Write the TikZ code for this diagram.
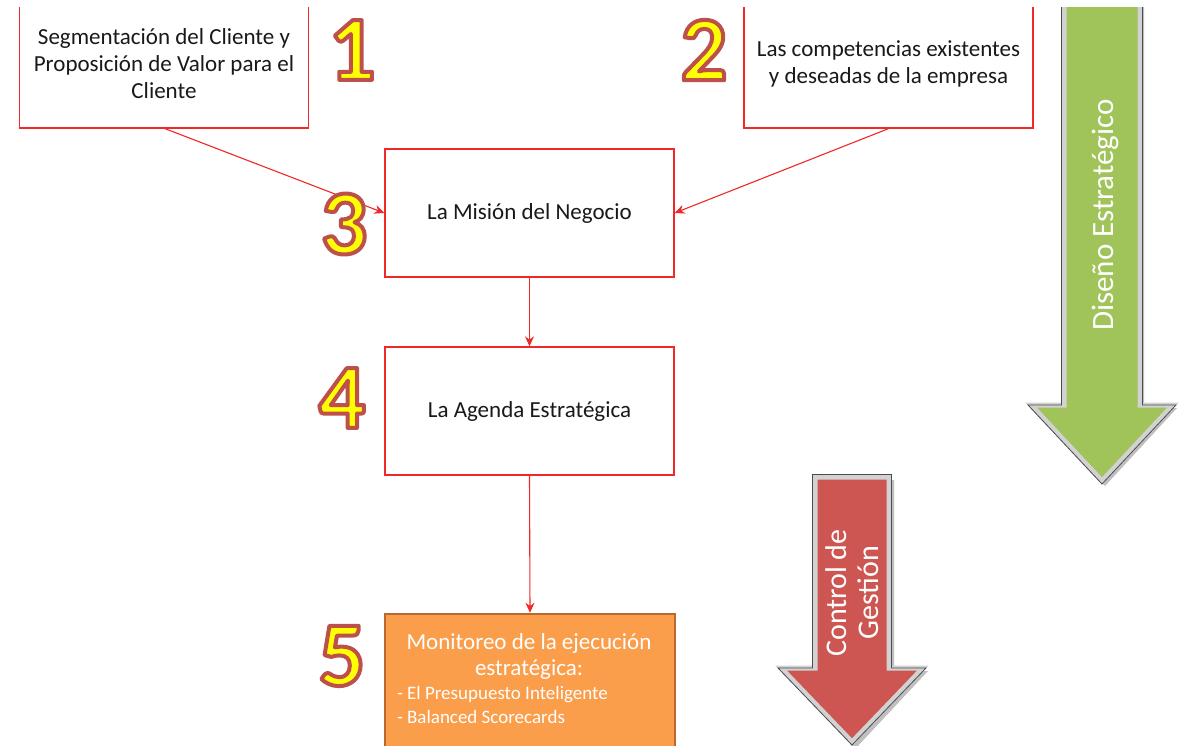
\documentclass[tikz,border=0pt]{standalone}
\usepackage{fontspec}
\setmainfont{Carlito}
\usetikzlibrary{arrows.meta}
\definecolor{boxred}{RGB}{240,40,40}
\definecolor{numyellow}{RGB}{255,255,0}
\definecolor{numedge}{RGB}{190,80,75}
\definecolor{greenarrow}{RGB}{160,195,90}
\definecolor{redarrow}{RGB}{205,85,82}
\definecolor{orangebox}{RGB}{250,158,75}
\definecolor{orangeedge}{RGB}{185,105,45}
\definecolor{txt}{RGB}{25,25,25}
\tikzset{
  stepbox/.style={draw=boxred, line width=1.3pt, fill=white, minimum width=289pt, minimum height=128pt, inner sep=0pt, align=center, font=\fontsize{23}{27}\selectfont, text=txt},
  conn/.style={draw=boxred, line width=1.1pt, -{Stealth[length=10pt,width=9pt]}},
  bignum/.style={font=\fontsize{92}{92}\bfseries\selectfont, inner sep=0pt},
  bevel/.style={line width=5pt, draw=gray!35, line join=miter},
  bevelline/.style={line width=0.8pt, draw=gray!60!black, line join=miter},
}
\newcommand{\numtxt}[1]{\textcolor{numyellow}{\special{pdf:literal direct 0.745 0.314 0.294 RG 4 w 1 j 2 Tr}#1\special{pdf:literal direct 0 Tr}}}
% down arrow: #1 center x, #2 top y, #3 shaft half width, #4 head y, #5 head half width, #6 tip y
\newcommand{\downarrowpath}[6]{(#1-#3,#2) -- (#1+#3,#2) -- (#1+#3,#4) -- (#1+#5,#4) -- (#1,#6) -- (#1-#5,#4) -- (#1-#3,#4) -- cycle}
\begin{document}
\begin{tikzpicture}[x=1pt,y=-1pt]
\useasboundingbox (0,0) rectangle (1184,746);
\fill[white] (0,0) rectangle (1184,746);
% boxes (top two clipped at the top)
\begin{scope}
\clip (0,8) rectangle (1184,746);
\node[stepbox] (b1) at (164,64) {Segmentación del Cliente y\\Proposición de Valor para el\\Cliente};
\node[stepbox] (b2) at (888.5,64) {Las competencias existentes\\y deseadas de la empresa};
% green arrow
\fill[gray!50] \downarrowpath{1105}{2}{39}{408}{72}{486};
\path[bevel, fill=greenarrow] \downarrowpath{1102}{0}{38}{405}{71}{481};
\path[bevelline] \downarrowpath{1102}{0}{40.5}{405}{74}{484};
\end{scope}
\node[rotate=90, text=white, font=\fontsize{31}{36}\selectfont] (dlabel) at (1105,215) {Diseño Estratégico};
\node[stepbox] (b3) at (529.5,213) {La Misión del Negocio};
\node[stepbox] (b4) at (529.5,411) {La Agenda Estratégica};
% orange box
\begin{scope}
\clip (0,0) rectangle (1184,746);
\node[draw=orangeedge, line width=2.5pt, fill=orangebox, minimum width=290pt, minimum height=146pt, inner sep=0pt] (b5) at (530,687) {};
% red arrow
\fill[gray!50] \downarrowpath{855}{480}{39}{671}{73}{749};
\path[bevel, fill=redarrow] \downarrowpath{852}{477}{37}{668}{71}{742};
\path[bevelline] \downarrowpath{852}{474.5}{39.5}{668}{74}{745};
\end{scope}
\node[text=white, font=\fontsize{23}{26}\selectfont, align=left, inner sep=0pt] (t5) at (529,679)
 {\makebox[264pt][c]{Monitoreo de la ejecución}\\[0pt]\makebox[264pt][c]{estratégica:}\\[-2pt]{\fontsize{19}{24}\selectfont - El Presupuesto Inteligente}\\[-2pt]{\fontsize{19}{24}\selectfont - Balanced Scorecards}};
\node[rotate=90, text=white, font=\fontsize{30}{32}\selectfont, align=center] (clabel) at (852,593) {Control de\\Gestión};
% connectors
\draw[conn] ([xshift=1pt]b1.south) -- (b3.west);
\draw[conn] (b2.south) -- (b3.east);
\draw[conn] (b3.south) -- (b4.north);
\draw[conn] (b4.south) -- (b5.north);
% numbers
\node[bignum] (n1) at (352,50) {\numtxt{1}};
\node[bignum] (n2) at (704,50) {\numtxt{2}};
\node[bignum] (n3) at (344,224) {\numtxt{3}};
\node[bignum] (n4) at (342,398) {\numtxt{4}};
\node[bignum] (n5) at (342,656) {\numtxt{5}};
\end{tikzpicture}
\end{document}
